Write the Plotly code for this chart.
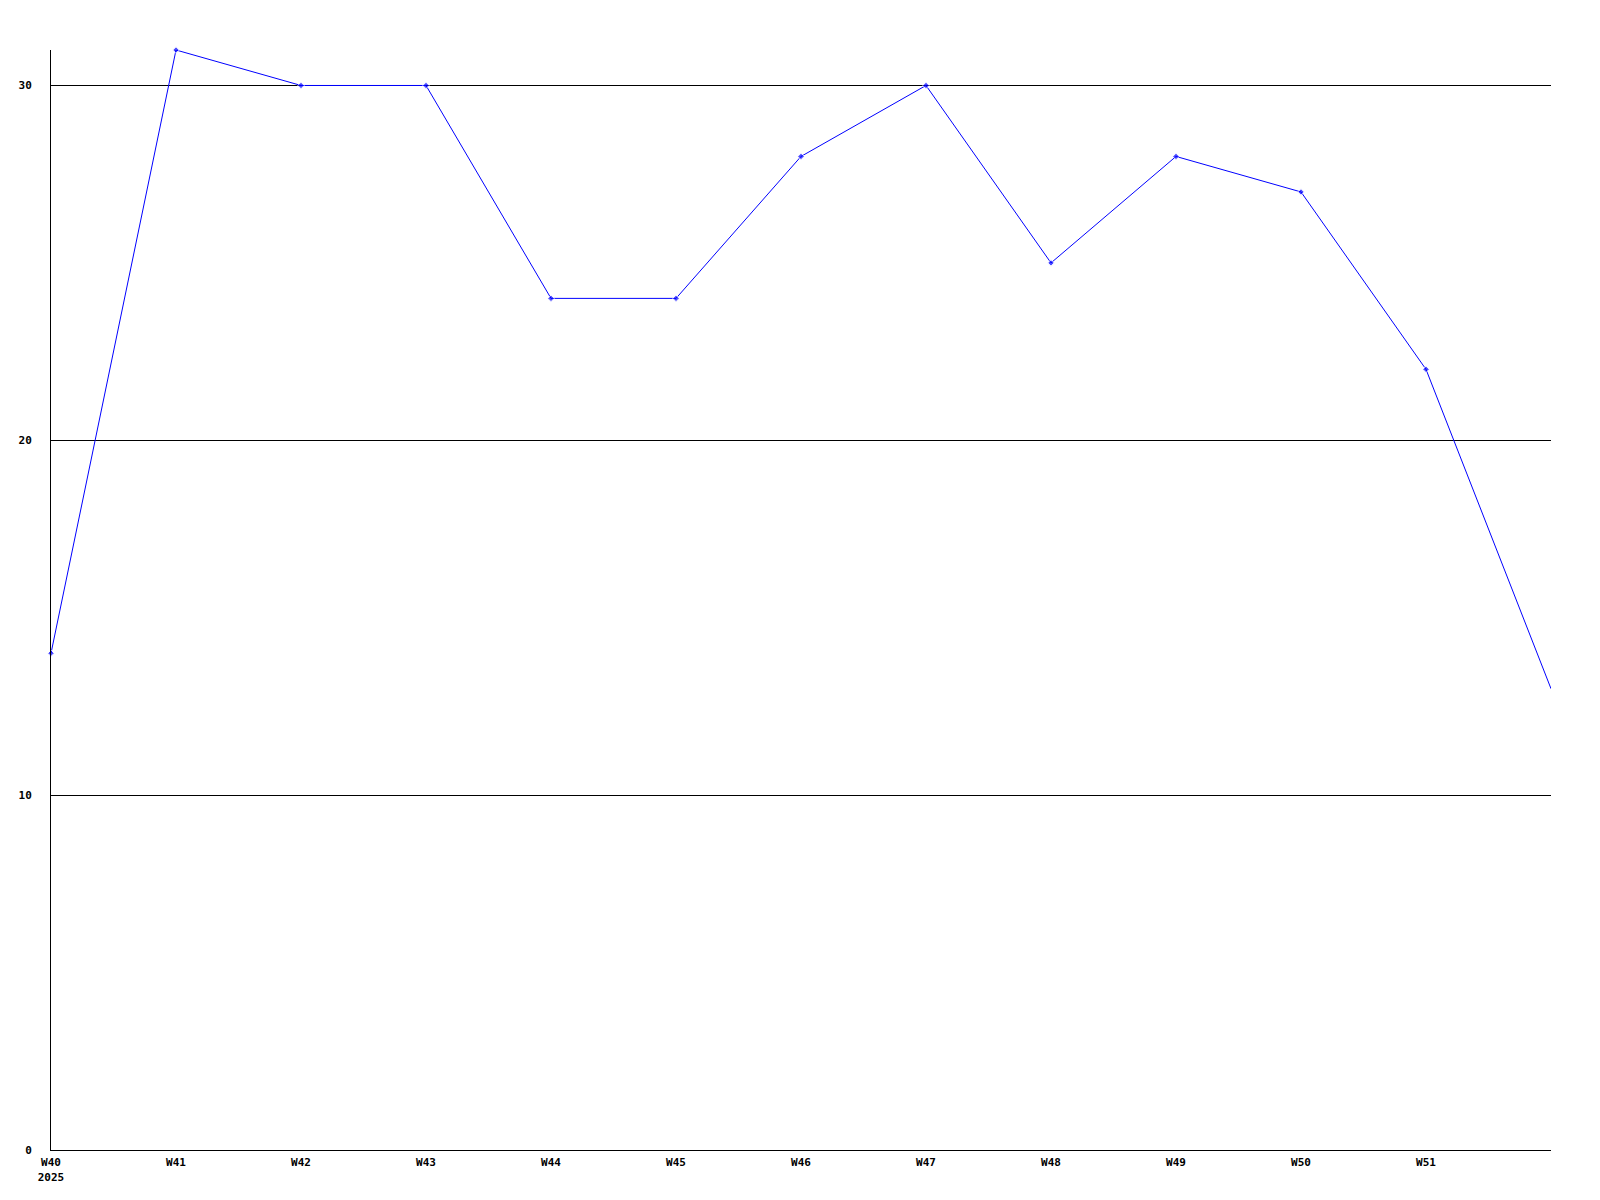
import plotly.graph_objects as go

# weekly values, W40 2025 to W52
weeks = ["W40<br>2025", "W41", "W42", "W43", "W44", "W45", "W46",
         "W47", "W48", "W49", "W50", "W51", ""]
values = [14, 31, 30, 30, 24, 24, 28, 30, 25, 28, 27, 22, 13]
y_ticks = [0, 10, 20, 30]

x_pos = list(range(len(values)))
tick_font = dict(family="DejaVu Sans Mono", size=11, color="black", weight="bold")

# last point (running week) is drawn without a marker
marker_sizes = [5] * (len(values) - 1) + [0]

fig = go.Figure()
fig.add_trace(go.Scatter(
    x=x_pos,
    y=values,
    mode="lines+markers",
    line=dict(color="#0000ff", width=1),
    marker=dict(symbol="diamond", size=marker_sizes, color="#0000ff"),
    cliponaxis=False,
    showlegend=False,
    hoverinfo="skip",
))

# page body has an 8px margin, so the figure is shrunk to fit the window
fig.update_layout(
    width=1592,
    height=1192,
    margin=dict(l=43, r=49, t=42, b=50),
    paper_bgcolor="white",
    plot_bgcolor="white",
    xaxis=dict(
        range=[0, len(values) - 1],
        tickvals=x_pos[:-1],
        ticktext=weeks[:-1],
        showgrid=False,
        zeroline=False,
        showline=True,
        linecolor="black",
        linewidth=1,
        ticks="",
        tickfont=tick_font,
        ticklabelstandoff=2,
    ),
    yaxis=dict(
        range=[0, 31],
        tickvals=y_ticks,
        showgrid=True,
        gridcolor="black",
        gridwidth=1,
        zeroline=False,
        showline=True,
        linecolor="black",
        linewidth=1,
        ticks="",
        tickfont=tick_font,
        ticklabelstandoff=16,
    ),
)

fig.write_html("out.html")
